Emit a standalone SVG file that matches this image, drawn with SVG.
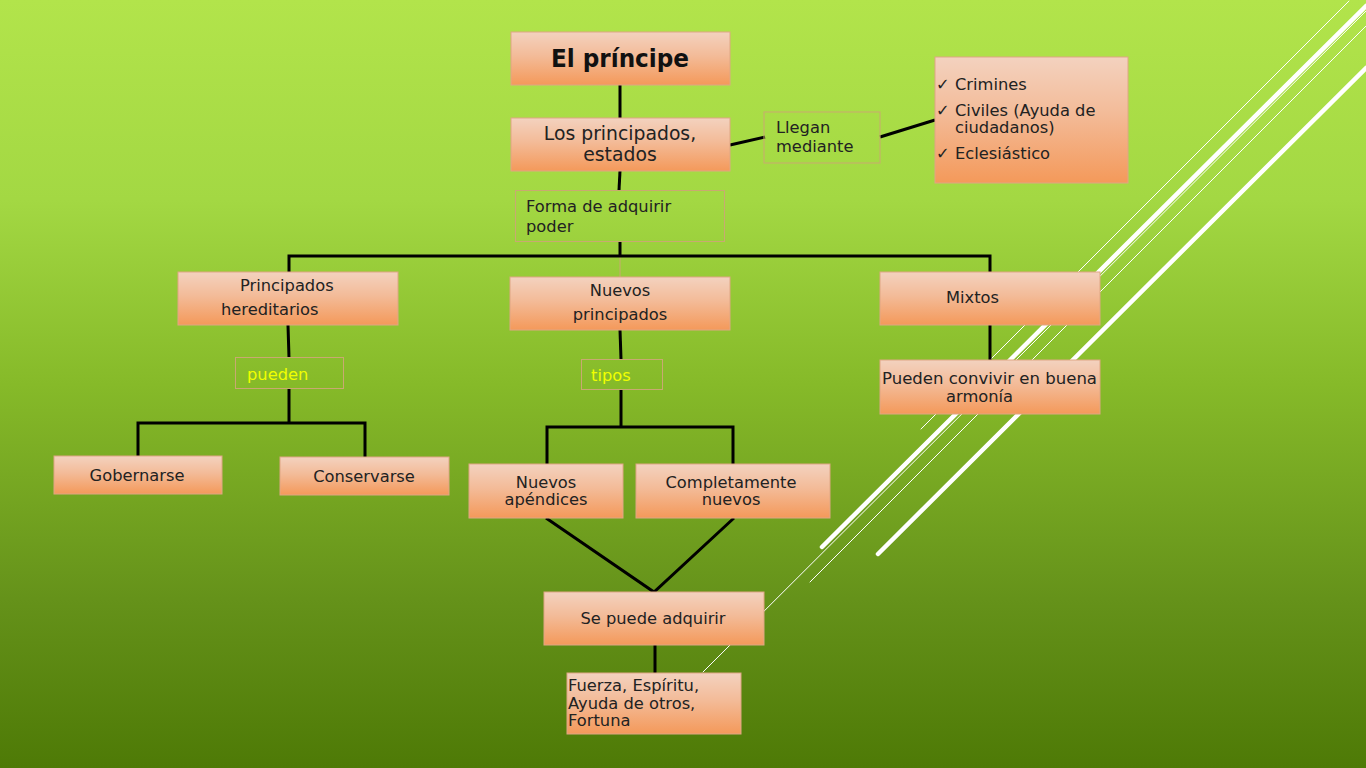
<svg xmlns="http://www.w3.org/2000/svg" width="1366" height="768" viewBox="0 0 1366 768">
<defs>
<linearGradient id="bg" x1="0" y1="0" x2="0" y2="1">
<stop offset="0" stop-color="#b2e44b"/>
<stop offset="0.26" stop-color="#a3d843"/>
<stop offset="0.5" stop-color="#86ba29"/>
<stop offset="0.78" stop-color="#65921a"/>
<stop offset="1" stop-color="#4e7a06"/>
</linearGradient>
<linearGradient id="box" x1="0" y1="0" x2="0" y2="1">
<stop offset="0" stop-color="#f3d2bf"/>
<stop offset="0.45" stop-color="#f3bb98"/>
<stop offset="1" stop-color="#f4995a"/>
</linearGradient>
<style>
.b{fill:url(#box);stroke:#dfa684;stroke-width:1}
.o{fill:none;stroke:#c9a971;stroke-width:1}
.t{font-family:"DejaVu Sans","Liberation Sans",sans-serif;font-size:16.3px;fill:#222}
.c{text-anchor:middle}
.y{fill:#f0ff00}
.k{fill:none;stroke:#000;stroke-width:3}
.w{stroke:#fff;stroke-linecap:round}
.w1{stroke-width:1}
.w4{stroke-width:4.5}
</style>
</defs>
<rect width="1366" height="768" fill="url(#bg)"/>
<g id="deco">
<line class="w w1" x1="703" y1="672" x2="1366" y2="11"/>
<line class="w w1" x1="810" y1="582" x2="1366" y2="26"/>
<line class="w w1" x1="921" y1="429" x2="1349" y2="1"/>
<line class="w w4" x1="822" y1="547" x2="1366" y2="6"/>
<line class="w w4" x1="878" y1="554" x2="1366" y2="68"/>
</g>
<g id="connectors">
<line class="k" x1="620" y1="85" x2="620" y2="118"/>
<line class="k" x1="730" y1="145" x2="765" y2="137"/>
<line class="k" x1="880" y1="137" x2="935" y2="120"/>
<line class="k" x1="620" y1="171" x2="619" y2="190"/>
<line class="k" x1="620" y1="242" x2="620" y2="256"/>
<line x1="620" y1="257" x2="620" y2="277" stroke="#c9a971" stroke-width="1"/>
<polyline class="k" points="289,272 289,256 990,256 990,272"/>
<line class="k" x1="288" y1="325" x2="289" y2="358"/>
<line class="k" x1="289" y1="388" x2="289" y2="423"/>
<polyline class="k" points="138,457 138,423 365,423 365,458"/>
<line class="k" x1="620" y1="330" x2="621" y2="359"/>
<line class="k" x1="621" y1="389" x2="621" y2="427"/>
<polyline class="k" points="547,465 547,427 733,427 733,465"/>
<polyline class="k" points="546,518 654,592 734,518"/>
<line class="k" x1="655" y1="645" x2="655" y2="673"/>
<line class="k" x1="990" y1="325" x2="990" y2="361"/>
</g>
<g id="n-principe">
<rect class="b" x="511" y="32" width="219" height="53"/>
<text class="t c" x="620" y="67" style="font-size:24px;font-weight:bold;fill:#111" textLength="138" lengthAdjust="spacingAndGlyphs">El príncipe</text>
</g>
<g id="n-principados">
<rect class="b" x="511" y="118" width="219" height="53"/>
<text class="t c" x="620" y="139.5" style="font-size:18.8px">Los principados,</text>
<text class="t c" x="620" y="160.5" style="font-size:18.8px">estados</text>
</g>
<g id="n-llegan">
<rect class="o" x="764" y="112" width="116" height="51"/>
<text class="t" x="776" y="133">Llegan</text>
<text class="t" x="776" y="152">mediante</text>
</g>
<g id="n-lista">
<rect class="b" x="935" y="57" width="193" height="126"/>
<text class="t" x="936" y="90">✓</text><text class="t" x="955" y="90">Crimines</text>
<text class="t" x="936" y="115.5">✓</text><text class="t" x="955" y="115.5">Civiles (Ayuda de</text>
<text class="t" x="955" y="133">ciudadanos)</text>
<text class="t" x="936" y="159">✓</text><text class="t" x="955" y="159">Eclesiástico</text>
</g>
<g id="n-forma">
<rect class="o" x="515.5" y="190.5" width="209" height="51"/>
<text class="t" x="526" y="212">Forma de adquirir</text>
<text class="t" x="526" y="232">poder</text>
</g>
<g id="n-hereditarios">
<rect class="b" x="178" y="272" width="220" height="53"/>
<text class="t" x="240" y="290.5">Principados</text>
<text class="t" x="221" y="315">hereditarios</text>
</g>
<g id="n-pueden">
<rect class="o" x="235.5" y="357.5" width="108" height="31"/>
<text class="t y" x="247" y="380">pueden</text>
</g>
<g id="n-gobernarse">
<rect class="b" x="54" y="456" width="168" height="38"/>
<text class="t c" x="137" y="480.5">Gobernarse</text>
</g>
<g id="n-conservarse">
<rect class="b" x="280" y="457" width="169" height="38"/>
<text class="t c" x="364" y="481.5">Conservarse</text>
</g>
<g id="n-nuevos">
<rect class="b" x="510" y="277" width="220" height="53"/>
<text class="t c" x="620" y="296">Nuevos</text>
<text class="t c" x="620" y="320">principados</text>
</g>
<g id="n-tipos">
<rect class="o" x="581.5" y="359.5" width="81" height="30"/>
<text class="t y" x="591" y="381">tipos</text>
</g>
<g id="n-apendices">
<rect class="b" x="469" y="464" width="154" height="54"/>
<text class="t c" x="546" y="487.5">Nuevos</text>
<text class="t c" x="546" y="505">apéndices</text>
</g>
<g id="n-completamente">
<rect class="b" x="636" y="464" width="194" height="54"/>
<text class="t c" x="731" y="487.5">Completamente</text>
<text class="t c" x="731" y="505">nuevos</text>
</g>
<g id="n-adquirir">
<rect class="b" x="544" y="592" width="220" height="53"/>
<text class="t c" x="653" y="624">Se puede adquirir</text>
</g>
<g id="n-fuerza">
<rect class="b" x="567" y="673" width="174" height="61"/>
<text class="t" x="568" y="691">Fuerza, Espíritu,</text>
<text class="t" x="568" y="708.5">Ayuda de otros,</text>
<text class="t" x="568" y="726">Fortuna</text>
</g>
<g id="n-mixtos">
<rect class="b" x="880" y="272" width="220" height="53"/>
<text class="t" x="946" y="303">Mixtos</text>
</g>
<g id="n-convivir">
<rect class="b" x="880" y="360" width="220" height="54"/>
<text class="t" x="882" y="384" textLength="215" lengthAdjust="spacingAndGlyphs">Pueden convivir en buena</text>
<text class="t" x="946" y="401.5">armonía</text>
</g>
</svg>
